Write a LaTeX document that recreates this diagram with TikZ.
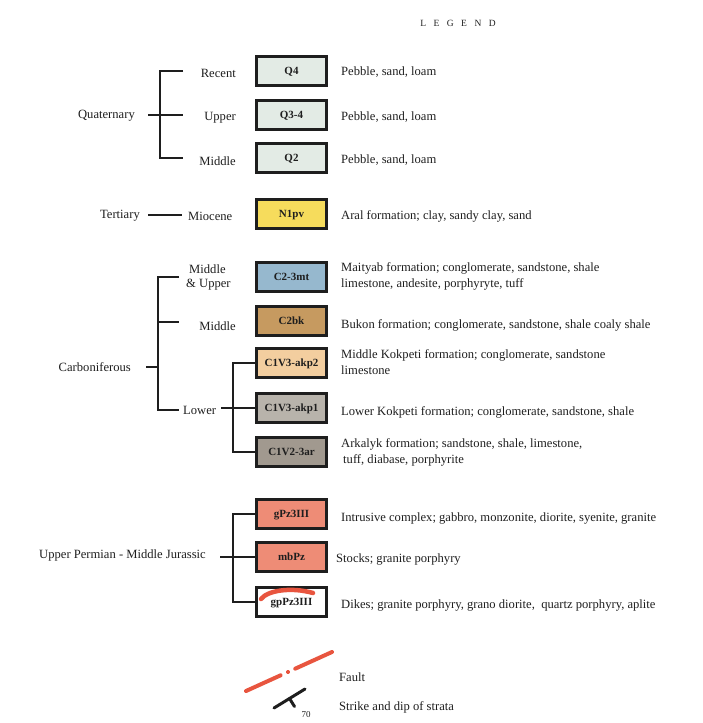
\documentclass[tikz,border=0pt]{standalone}
\usepackage{fontspec}
\setmainfont{Liberation Serif}
\definecolor{qgrey}{HTML}{E3EBE5}
\definecolor{yel}{HTML}{F6DC5C}
\definecolor{blu}{HTML}{96B8CE}
\definecolor{brn}{HTML}{C69A60}
\definecolor{org}{HTML}{F3CE9F}
\definecolor{gry}{HTML}{B8B3AB}
\definecolor{dgry}{HTML}{A1998F}
\definecolor{sal}{HTML}{EE8C76}
\definecolor{fred}{HTML}{E8553F}
\definecolor{ink}{HTML}{1E1E1E}
\begin{document}
\begin{tikzpicture}[x=1pt,y=-1pt,
  bx/.style={draw=ink, line width=2.6pt, minimum width=70pt, minimum height=28.5pt, inner sep=0pt, text height=8pt, text depth=1pt, font=\fontsize{11}{12}\selectfont\bfseries, text=ink},
  br/.style={line width=2.2pt, draw=ink},
  lb/.style={anchor=west, inner sep=0pt, font=\fontsize{12.6}{16}\selectfont, align=left, text=ink},
  ag/.style={inner sep=0pt, font=\fontsize{12.6}{14}\selectfont, align=left, text=ink}]
\useasboundingbox (0,0) rectangle (702,723);

% title
\node[ag, font=\fontsize{9.5}{10}\selectfont] (title) at (458,23) {L\hskip7.5pt E\hskip7.5pt G\hskip7.5pt E\hskip7.5pt N\hskip7.5pt D};

% boxes
\node[bx, fill=qgrey] (q4) at (291.5,71) {Q4};
\node[bx, fill=qgrey] (q34) at (291.5,115) {Q3-4};
\node[bx, fill=qgrey] (q2) at (291.5,158) {Q2};
\node[bx, fill=yel] (n1) at (291.5,214) {N1pv};
\node[bx, fill=blu] (c23) at (291.5,277) {C2-3mt};
\node[bx, fill=brn] (c2bk) at (291.5,321) {C2bk};
\node[bx, fill=org] (akp2) at (291.5,363) {C1V3-akp2};
\node[bx, fill=gry] (akp1) at (291.5,408) {C1V3-akp1};
\node[bx, fill=dgry] (ar) at (291.5,452) {C1V2-3ar};
\node[bx, fill=sal] (gpz) at (291.5,514) {gPz3III};
\node[bx, fill=sal] (mbpz) at (291.5,557) {mbPz};
\node[bx, fill=white] (gppz) at (291.5,602) {gpPz3III};
\draw[fred, line width=4.5pt, line cap=round] (261,599) .. controls (268,590) and (292,587) .. (313,593);

% descriptions
\node[lb] (dq4) at (341,72) {Pebble, sand, loam};
\node[lb] (dq34) at (341,117) {Pebble, sand, loam};
\node[lb] (dq2) at (341,160) {Pebble, sand, loam};
\node[lb] (dn1) at (341,216) {Aral formation; clay, sandy clay, sand};
\node[lb] (dc23) at (341,276) {Maityab formation; conglomerate, sandstone, shale\\limestone, andesite, porphyryte, tuff};
\node[lb] (dc2bk) at (341,325) {Bukon formation; conglomerate, sandstone, shale coaly shale};
\node[lb] (dakp2) at (341,362) {Middle Kokpeti formation; conglomerate, sandstone\\limestone};
\node[lb] (dakp1) at (341,412) {Lower Kokpeti formation; conglomerate, sandstone, shale};
\node[lb] (dar) at (341,452) {Arkalyk formation; sandstone, shale, limestone,\\\hspace*{2pt}tuff, diabase, porphyrite};
\node[lb] (dgpz) at (341,518) {Intrusive complex; gabbro, monzonite, diorite, syenite, granite};
\node[lb] (dmbpz) at (336,559) {Stocks; granite porphyry};
\node[lb] (dgppz) at (341,605) {Dikes; granite porphyry, grano diorite,\ \ quartz porphyry, aplite};

% age labels
\node[ag, anchor=east] (recent) at (236,73) {Recent};
\node[ag, anchor=east] (upper) at (236,118) {Upper};
\node[ag, anchor=east] (middleq) at (236,161) {Middle};
\node[ag, anchor=east] (quat) at (135,116) {Quaternary};
\node[ag, anchor=east] (tert) at (140,216) {Tertiary};
\node[ag, anchor=west] (mio) at (188,216) {Miocene};
\node[ag, anchor=west] (mu) at (186,277) {\hspace*{3pt}Middle\\\& Upper};
\node[ag, anchor=east] (middlec) at (236,326) {Middle};
\node[ag, anchor=east] (carb) at (131,367) {Carboniferous};
\node[ag, anchor=west] (lower) at (183,410) {Lower};
\node[ag, anchor=east] (perm) at (206,555) {Upper Permian - Middle Jurassic};

% Quaternary bracket
\coordinate (qt) at (160,71);
\coordinate (qb) at (160,158);
\draw[br] (183,71) -- (qt) -- (qb) -- (183,158);
\draw[br] (148,115) -- (183,115);
% Tertiary
\draw[br] (148,215) -- (182,215);
% Carboniferous bracket
\coordinate (ct) at (158,277);
\coordinate (cb) at (158,410);
\draw[br] (179,277) -- (ct) -- (cb) -- (179,410);
\draw[br] (158,322) -- (179,322);
\draw[br] (146,367) -- (158,367);
% Lower bracket
\coordinate (lt) at (233,363);
\coordinate (lbt) at (233,452);
\draw[br] (akp2.west) -- (lt) -- (lbt) -- (ar.west);
\draw[br] (221,408) -- (akp1.west);
% Upper Permian bracket
\coordinate (pt) at (233,514);
\coordinate (pb) at (233,602);
\draw[br] (gpz.west) -- (pt) -- (pb) -- (gppz.west);
\draw[br] (220,557) -- (mbpz.west);

% Fault symbol
\coordinate (fa) at (246,691);
\coordinate (fb) at (332,652);
\draw[fred, line width=4pt, line cap=round, dash pattern=on 38pt off 8pt on 0.1pt off 8pt on 60pt] (fa) -- (fb);
\node[lb] (fault) at (339,677) {Fault};

% Strike and dip
\coordinate (sa) at (274,708);
\coordinate (sb) at (305,689);
\coordinate (sm) at (289.5,698.5);
\draw[ink, line width=3pt, line cap=round] (sa) -- (sb);
\draw[ink, line width=3pt, line cap=round] (sm) -- ++(5,8);
\node[ag, font=\fontsize{9}{10}\selectfont] (dip) at (306,715) {70};
\node[lb] (strike) at (339,707) {Strike and dip of strata};
\end{tikzpicture}
\end{document}
